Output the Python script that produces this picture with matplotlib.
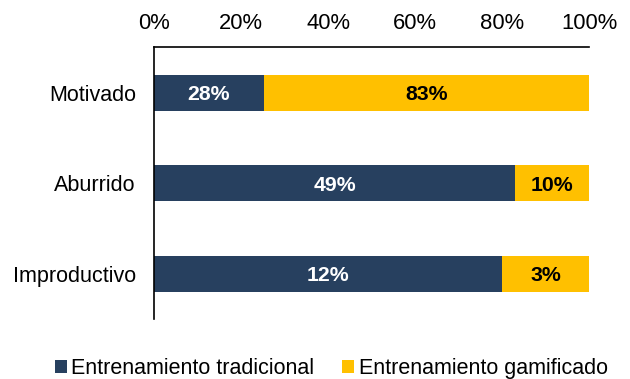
import matplotlib
matplotlib.use("Agg")
import matplotlib.pyplot as plt
import numpy as np

plt.rcParams['font.family'] = ['Liberation Sans', 'DejaVu Sans']

categorias = ["Motivado", "Aburrido", "Improductivo"]
tradicional = [28, 49, 12]
gamificado = [83, 10, 3]
series_nombres = ["Entrenamiento tradicional", "Entrenamiento gamificado"]
colores = ["#27405F", "#FFC000"]

# 100% stacked: each row normalised to its own total
trad = np.array(tradicional, dtype=float)
gami = np.array(gamificado, dtype=float)
total = trad + gami
trad_frac = trad / total
gami_frac = gami / total

fig = plt.figure(figsize=(6.3, 3.79), dpi=100)
ax = fig.add_axes([0.2444, 0.1575, 0.6906, 0.7177])

y = np.arange(len(categorias))
b1 = ax.barh(y, trad_frac, height=0.4, color=colores[0], label=series_nombres[0])
b2 = ax.barh(y, gami_frac, left=trad_frac, height=0.4, color=colores[1],
             label=series_nombres[1])

for i in range(len(categorias)):
    ax.text(trad_frac[i] / 2, y[i] + 0.02, f"{tradicional[i]}%", ha="center", va="center",
            color="white", fontsize=15.3, fontweight="bold")
    ax.text(trad_frac[i] + gami_frac[i] / 2, y[i] + 0.02, f"{gamificado[i]}%", ha="center",
            va="center", color="black", fontsize=15.3, fontweight="bold")

ax.set_xlim(0, 1)
ax.set_ylim(2.5, -0.5)
ax.set_yticks(y)
ax.set_yticklabels(categorias)
ax.set_xticks(np.linspace(0, 1, 6))
ax.set_xticklabels([f"{int(v * 100)}%" for v in np.linspace(0, 1, 6)])
ax.xaxis.tick_top()
ax.tick_params(axis="x", length=0, pad=9.5, labelsize=15.8)
ax.tick_params(axis="y", length=0, pad=13, labelsize=15.5)

ax.spines["right"].set_visible(False)
ax.spines["bottom"].set_visible(False)
ax.spines["top"].set_color("black")
ax.spines["left"].set_color("black")
ax.spines["top"].set_linewidth(1.2)
ax.spines["left"].set_linewidth(1.2)

fig.legend(handles=[b1, b2], loc="center", bbox_to_anchor=(0.526, 0.028), ncol=2,
           frameon=False, fontsize=15.5, handlelength=0.55, handleheight=0.55,
           handletextpad=0.2, columnspacing=1.3, borderpad=0)

fig.savefig("out.png", dpi=100)
